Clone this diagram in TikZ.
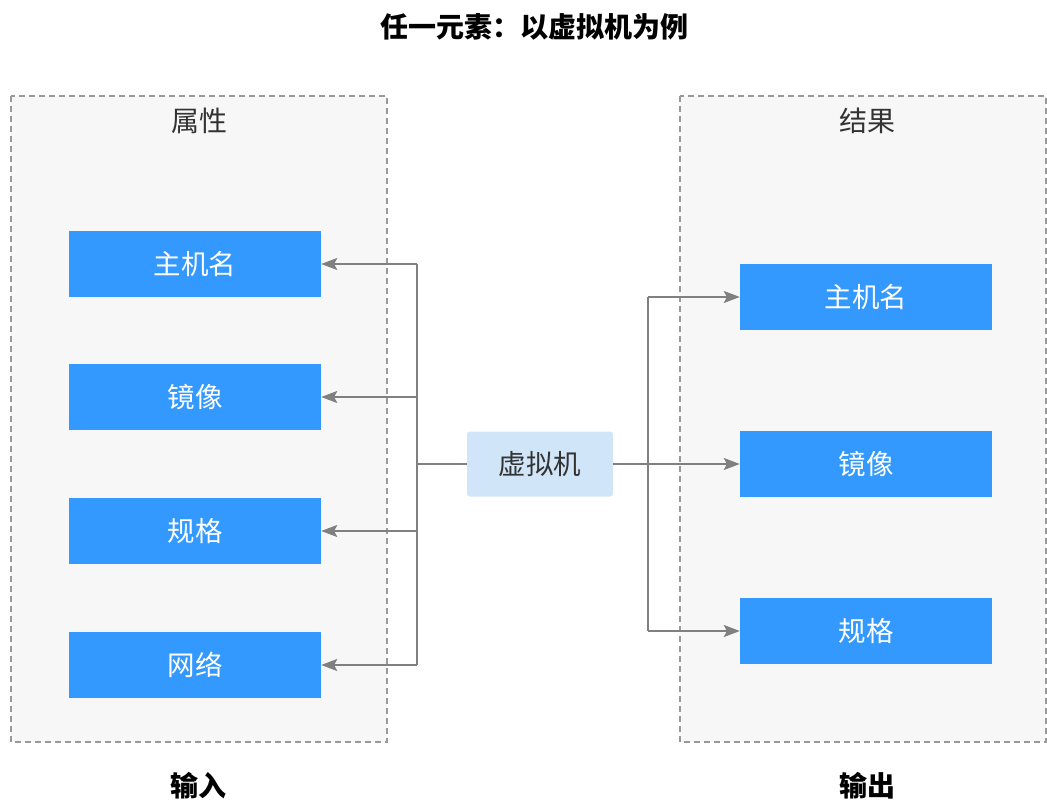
\documentclass[tikz,border=0pt]{standalone}
\usepackage{fontspec}
\setmainfont{Noto Sans CJK SC}
\usetikzlibrary{arrows.meta}
\definecolor{panelbg}{HTML}{F7F7F7}
\definecolor{panelline}{HTML}{999999}
\definecolor{bluebox}{HTML}{3399FF}
\definecolor{centerbox}{HTML}{D1E5F8}
\definecolor{conn}{HTML}{808080}
\definecolor{txt}{HTML}{333333}
\tikzset{
  panel/.style={draw=panelline, fill=panelbg, dashed, dash pattern=on 6pt off 4pt, line width=1.2pt},
  item/.style={fill=bluebox, draw=none, minimum width=252pt, minimum height=66pt, text=white, font=\fontsize{27.5pt}{32pt}\selectfont, inner sep=0pt},
  vm/.style={fill=centerbox, draw=none, rounded corners=3pt, minimum width=146pt, minimum height=65pt, text=txt, font=\fontsize{27.5pt}{32pt}\selectfont, inner sep=0pt},
  lbl/.style={text=txt, font=\fontsize{28pt}{32pt}\selectfont, inner sep=0pt},
  bold/.style={text=black, font=\fontsize{28pt}{32pt}\selectfont\bfseries, inner sep=0pt},
  conn/.style={draw=conn, line width=1.5pt},
  arr/.style={conn, -{Stealth[length=16pt,width=12pt,inset=3pt]}}
}
\begin{document}
\begin{tikzpicture}[x=1pt,y=-1pt]
\useasboundingbox (0,0) rectangle (1047,802);
% panels
\draw[panel] (11,96) rectangle (387,742);
\draw[panel] (680,96) rectangle (1046,742);
\node[bold] (title) at (534,27) {任一元素：以虚拟机为例};
\node[lbl] (lt) at (199,121) {属性};
\node[lbl] (rt) at (867,121) {结果};
\node[bold] (in) at (198,786) {输入};
\node[bold] (out) at (867,786) {输出};
% left items
\node[item] (l1) at (195,264) {主机名};
\node[item] (l2) at (195,397) {镜像};
\node[item] (l3) at (195,531) {规格};
\node[item] (l4) at (195,665) {网络};
% right items
\node[item] (r1) at (866,297) {主机名};
\node[item] (r2) at (866,464) {镜像};
\node[item] (r3) at (866,631) {规格};
% center
\node[vm] (vm) at (540,464) {虚拟机};
% junctions
\coordinate (lj) at (417,464);
\coordinate (rj) at (648,464);
\draw[conn] (vm.west) -- (lj);
\draw[conn] (lj |- l1.east) -- (lj |- l4.east);
\draw[arr] (lj |- l1.east) -- (l1.east);
\draw[arr] (lj |- l2.east) -- (l2.east);
\draw[arr] (lj |- l3.east) -- (l3.east);
\draw[arr] (lj |- l4.east) -- (l4.east);
\draw[conn] (rj |- r1.west) -- (rj |- r3.west);
\draw[arr] (vm.east) -- (r2.west);
\draw[arr] (rj |- r1.west) -- (r1.west);
\draw[arr] (rj |- r3.west) -- (r3.west);
\end{tikzpicture}
\end{document}
